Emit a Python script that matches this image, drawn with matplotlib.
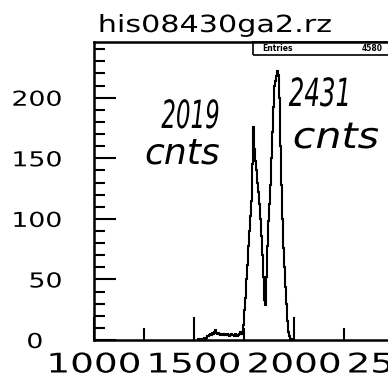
import numpy as np
import matplotlib
matplotlib.use("Agg")
import matplotlib.pyplot as plt
from matplotlib.patches import Rectangle
from matplotlib.patheffects import AbstractPathEffect
from matplotlib.transforms import Affine2D
from matplotlib.path import Path

# --- data ---
title = "his08430ga2.rz"
entries = 4580
first_bin = 1520          # left edge of first listed bin
bin_width = 5
counts = [
    1, 0, 1, 1, 0, 1, 2, 1, 2, 3, 3, 4, 5, 4, 6, 5, 7, 8, 6, 5,
    6, 5, 4, 5, 5, 4, 5, 4, 4, 5, 4, 3, 4, 5, 4, 4, 3, 5, 4, 3,
    4, 5, 7, 5, 6,
    12, 25, 35, 50, 62, 78, 90, 102, 115, 145, 176, 158, 148, 140, 130,
    122, 112, 100, 86, 70, 52, 33, 29, 52, 78, 98, 112, 128, 150, 172,
    192, 210, 214, 218, 222, 219, 200, 160, 128, 100, 76, 60, 44, 30, 16,
    7, 3, 1, 1, 0,
]
x_major = [1000, 1500, 2000, 2500, 3000]
x_minor = [1250, 1750, 2250, 2750]
y_major = [0, 50, 100, 150, 200]
y_labels = ["", "50", "100", "150", "200"]
notes = [("2019", "cnts"), ("2431", "cnts")]


# Hershey-style PAW lettering is much wider than DejaVu; stretch glyph paths in x
class Stretch(AbstractPathEffect):
    def __init__(self, sx, anchor="center"):
        super().__init__()
        self.sx = sx
        self.anchor = anchor

    def draw_path(self, renderer, gc, tpath, affine, rgbFace=None):
        v = tpath.vertices
        if tpath.codes is not None:
            v = v[tpath.codes != Path.CLOSEPOLY]
        x0 = 0.0
        if len(v):
            lo, hi = v[:, 0].min(), v[:, 0].max()
            x0 = {"left": lo, "right": hi}.get(self.anchor, 0.5 * (lo + hi))
        t = Affine2D().translate(-x0, 0).scale(self.sx, 1).translate(x0, 0) + affine
        renderer.draw_path(gc, tpath, t, rgbFace)


W, H = 388, 383
fig = plt.figure(figsize=(W / 100, H / 100), dpi=100)
# axes run past the right edge of the scan (cropped original)
ax = fig.add_axes([94 / W, 43 / H, 400 / W, 298 / H])

edges = first_bin + bin_width * np.arange(len(counts) + 1)
ax.stairs(counts, edges, color="black", lw=1.5)

ax.set_xlim(1000, 3000)
ax.set_ylim(0, 246)

for s in ["left", "bottom", "top"]:
    ax.spines[s].set_linewidth(1.8)
ax.spines["right"].set_visible(False)

ax.set_xticks(x_major)
ax.set_xticks(x_minor, minor=True)
ax.set_yticks(y_major, y_labels)
ax.set_yticks(np.arange(10, 246, 10), minor=True)
ax.tick_params(axis="x", which="major", direction="in", length=16.5, width=1.5,
               pad=9, labelsize=19.5)
ax.tick_params(axis="x", which="minor", direction="in", length=8.5, width=1.5)
ax.tick_params(axis="y", which="major", direction="in", length=16, width=1.5,
               pad=23, labelsize=14.8)
ax.tick_params(axis="y", which="minor", direction="in", length=8, width=1.5)
for lab in ax.get_xticklabels():
    lab.set_path_effects([Stretch(1.38)])
for lab in ax.get_yticklabels():
    lab.set_path_effects([Stretch(1.3, "right")])

# the "0" sits left of the other y labels in the scan
fig.text(43 / W, (H - 340) / H, "0", ha="right", va="center_baseline",
         fontsize=14.8, path_effects=[Stretch(1.3, "right")])

fig.text(215 / W, (H - 32) / H, title, ha="center", va="baseline",
         fontsize=17, path_effects=[Stretch(1.28)])

# stats box (cut by the scan edge)
ax.add_patch(Rectangle((0.3975, 0.956), 0.8, 0.044, transform=ax.transAxes,
                       fill=False, lw=1.2, ec="black", clip_on=False))
ax.text(0.42, 0.978, "Entries", transform=ax.transAxes, fontsize=5.5,
        fontweight="bold", va="center", ha="left")
ax.text(0.7225, 0.978, str(entries), transform=ax.transAxes, fontsize=5.5,
        fontweight="bold", va="center", ha="right")

# handwritten annotations
hand = dict(style="italic", color="black", ha="center", va="baseline")
fig.text(191 / W, (H - 128) / H, notes[0][0], fontsize=28,
         path_effects=[Stretch(0.59)], **hand)
fig.text(182 / W, (H - 163) / H, notes[0][1], fontsize=26, **hand)
fig.text(321 / W, (H - 106) / H, notes[1][0], fontsize=28,
         path_effects=[Stretch(0.63)], **hand)
fig.text(336 / W, (H - 148) / H, notes[1][1], fontsize=26,
         path_effects=[Stretch(1.14)], **hand)

fig.savefig("out.png", dpi=100)
